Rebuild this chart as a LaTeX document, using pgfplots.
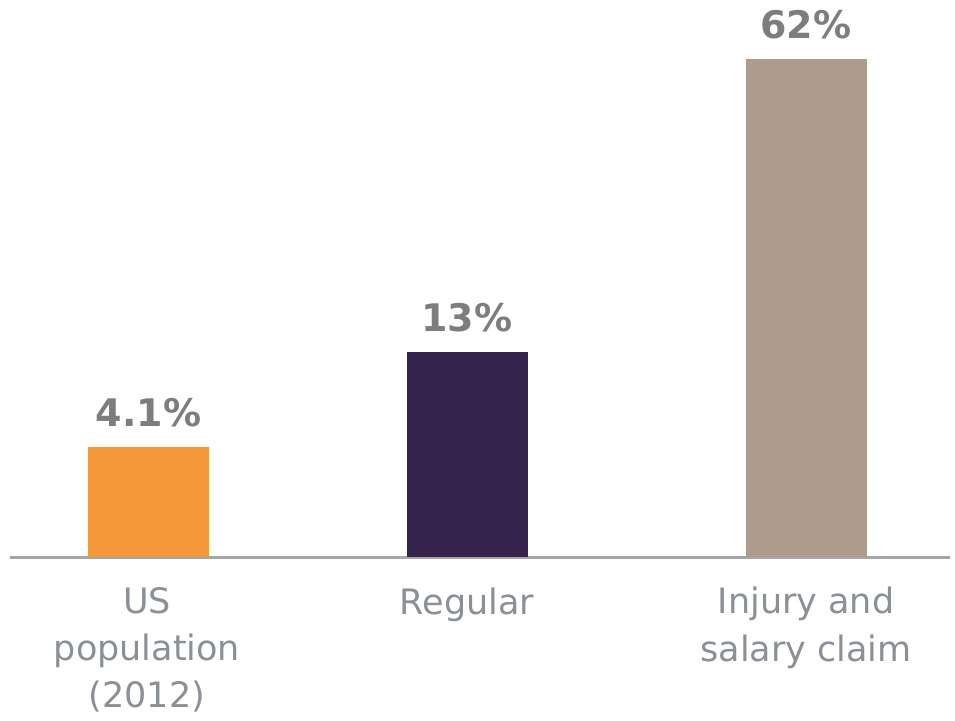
\documentclass[border=0pt]{standalone}
\usepackage{fontspec}
\setmainfont{DejaVu Sans}
\usepackage{pgfplots}
\pgfplotsset{compat=1.18}
\definecolor{barorange}{RGB}{244,152,58}
\definecolor{barpurple}{RGB}{53,35,75}
\definecolor{bartan}{RGB}{173,156,140}
\definecolor{valgray}{RGB}{125,125,125}
\definecolor{labgray}{RGB}{138,144,150}
\definecolor{linegray}{RGB}{166,166,166}
\begin{document}
\begin{tikzpicture}
\begin{axis}[
  scale only axis,
  width=470pt, height=278.5pt,
  xmin=10, xmax=950, ymin=0, ymax=557,
  axis x line=bottom, axis y line=none,
  axis line style={-, draw=linegray, line width=1.5pt},
  xtick={147,467,806},
  xticklabels={{US\\population\\(2012)},{Regular},{Injury and\\salary claim}},
  major tick length=0pt,
  xticklabel style={align=center, anchor=north, inner sep=0pt, yshift=-15pt,
    text=labgray, font=\fontsize{17.5}{23.5}\selectfont},
  ybar, bar width=60.5pt, bar shift=0pt,
  clip=false,
  point meta=explicit symbolic,
  nodes near coords,
  every node near coord/.append style={anchor=base, inner sep=0pt, yshift=10.5pt,
    text=valgray, font=\fontsize{19}{22}\selectfont\bfseries},
]
\addplot[draw=none, fill=barorange] coordinates {(148.5,110) [4.1\%]};
\addplot[draw=none, fill=barpurple] coordinates {(467,205) [13\%]};
\addplot[draw=none, fill=bartan] coordinates {(806,498) [62\%]};
\end{axis}
\path ([xshift=-5pt,yshift=-81.5pt]current axis.south west) rectangle ([xshift=2.5pt]current axis.north east);
\end{tikzpicture}
\end{document}
